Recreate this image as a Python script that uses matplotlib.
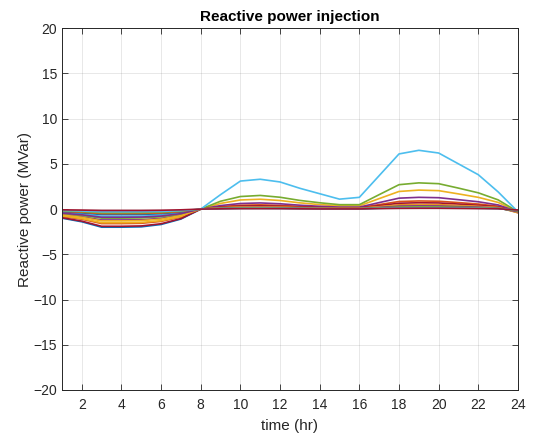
import matplotlib
matplotlib.use("Agg")
import matplotlib.pyplot as plt

plt.rcParams['font.family'] = ['Liberation Sans', 'DejaVu Sans']

hours = list(range(1, 25))
x_ticks = [2, 4, 6, 8, 10, 12, 14, 16, 18, 20, 22, 24]
y_ticks = [-20, -15, -10, -5, 0, 5, 10, 15, 20]

s1 = [-1.0, -1.4, -2.0, -2.0, -1.96, -1.7, -1.1, 0, 0.09, 0.14, 0.16, 0.14, 0.10, 0.07, 0.05, 0.05, 0.17, 0.28, 0.30, 0.29, 0.24, 0.19, 0.11, -0.3]
s2 = [-0.8, -1.12, -1.6, -1.6, -1.57, -1.36, -0.88, 0, 0.27, 0.43, 0.47, 0.41, 0.30, 0.22, 0.15, 0.15, 0.50, 0.84, 0.90, 0.87, 0.72, 0.56, 0.32, -0.2]
s3 = [-0.75, -1.05, -1.5, -1.5, -1.47, -1.28, -0.83, 0, 0.63, 1.01, 1.09, 0.95, 0.69, 0.50, 0.36, 0.36, 1.16, 1.95, 2.10, 2.04, 1.68, 1.30, 0.74, -0.3]
s4 = [-0.6, -0.84, -1.2, -1.2, -1.18, -1.02, -0.66, 0, 0.39, 0.62, 0.68, 0.59, 0.43, 0.31, 0.22, 0.22, 0.72, 1.21, 1.30, 1.26, 1.04, 0.81, 0.46, -0.3]
s5 = [-0.5, -0.7, -1.0, -1.0, -0.98, -0.85, -0.55, 0, 0.87, 1.39, 1.51, 1.31, 0.96, 0.70, 0.49, 0.49, 1.60, 2.70, 2.90, 2.81, 2.32, 1.80, 1.02, -0.3]
s6 = [-0.4, -0.56, -0.8, -0.8, -0.78, -0.68, -0.44, 0, 1.6, 3.1, 3.3, 3.0, 2.3, 1.7, 1.1, 1.3, 3.7, 6.1, 6.5, 6.2, 5.0, 3.8, 1.9, -0.3]
s7 = [-0.95, -1.33, -1.9, -1.9, -1.86, -1.62, -1.05, 0, 0.21, 0.34, 0.36, 0.32, 0.23, 0.17, 0.12, 0.12, 0.39, 0.65, 0.70, 0.68, 0.56, 0.43, 0.25, -0.4]
s8 = [-0.3, -0.42, -0.6, -0.6, -0.59, -0.51, -0.33, 0, 0.06, 0.10, 0.10, 0.09, 0.07, 0.05, 0.03, 0.03, 0.11, 0.19, 0.20, 0.19, 0.16, 0.12, 0.07, -0.2]
s9 = [-0.25, -0.35, -0.5, -0.5, -0.49, -0.43, -0.28, 0, 0.15, 0.24, 0.26, 0.23, 0.17, 0.12, 0.09, 0.09, 0.28, 0.47, 0.50, 0.49, 0.40, 0.31, 0.18, -0.3]
s10 = [-0.65, -0.91, -1.3, -1.3, -1.27, -1.11, -0.72, 0, 0.14, 0.22, 0.23, 0.20, 0.15, 0.11, 0.08, 0.08, 0.25, 0.42, 0.45, 0.44, 0.36, 0.28, 0.16, -0.4]
s11 = [-0.45, -0.63, -0.9, -0.9, -0.88, -0.77, -0.50, 0, 0.11, 0.17, 0.18, 0.16, 0.12, 0.08, 0.06, 0.06, 0.19, 0.33, 0.35, 0.34, 0.28, 0.22, 0.12, -0.3]
s12 = [-0.2, -0.28, -0.4, -0.4, -0.39, -0.34, -0.22, 0, 0.08, 0.12, 0.13, 0.11, 0.08, 0.06, 0.04, 0.04, 0.14, 0.23, 0.25, 0.24, 0.20, 0.16, 0.09, -0.2]
s13 = [-0.15, -0.21, -0.3, -0.3, -0.29, -0.26, -0.17, 0, 0.05, 0.07, 0.08, 0.07, 0.05, 0.04, 0.03, 0.03, 0.08, 0.14, 0.15, 0.15, 0.12, 0.09, 0.05, -0.1]
s14 = [-0.08, -0.11, -0.15, -0.15, -0.15, -0.13, -0.08, 0, 0.03, 0.05, 0.05, 0.05, 0.03, 0.02, 0.02, 0.02, 0.06, 0.09, 0.10, 0.10, 0.08, 0.06, 0.04, -0.1]

series = [s1, s2, s3, s4, s5, s6, s7, s8, s9, s10, s11, s12, s13, s14]
colors = ['#0072BD', '#D95319', '#EDB120', '#7E2F8E', '#77AC30', '#4DBEEE', '#A2142F']

fig = plt.figure(figsize=(5.34, 4.38), dpi=100)
ax = fig.add_axes([0.116, 0.1096, 0.854, 0.826])
for i, s in enumerate(series):
    ax.plot(hours, s, color=colors[i % 7], lw=1.2)

ax.set_xlim(1, 24)
ax.set_ylim(-20, 20)
ax.set_xticks(x_ticks)
ax.set_yticks(y_ticks)
ax.grid(True, color='#262626', alpha=0.12, lw=0.6)
ax.set_axisbelow(True)
ax.tick_params(direction='in', top=True, right=True, length=4, width=0.6,
               colors='#262626', labelsize=10)
ax.tick_params(axis='x', pad=6)
for sp in ax.spines.values():
    sp.set_color('#262626')
    sp.set_linewidth(0.7)
ax.set_title('Reactive power injection', fontsize=11, fontweight='bold', pad=5)
ax.set_xlabel('time (hr)', fontsize=11, color='#262626', labelpad=5)
ax.set_ylabel('Reactive power (MVar)', fontsize=11, color='#262626', labelpad=1)

fig.savefig('out.png', dpi=100, facecolor='white')
